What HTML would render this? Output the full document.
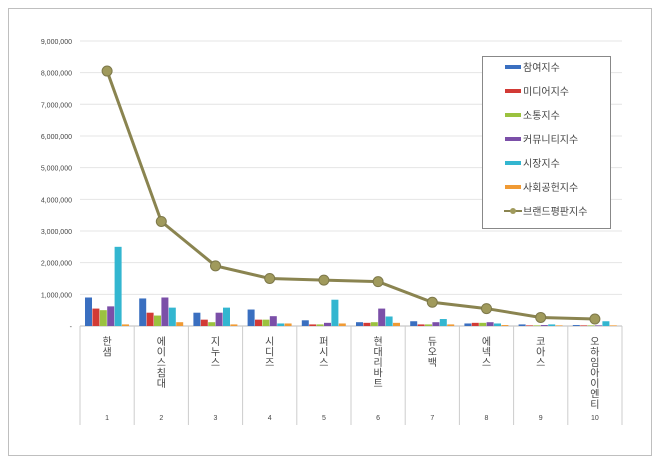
<!DOCTYPE html>
<html><head><meta charset="utf-8"><style>
body{margin:0;background:#fff}
svg{display:block}
text{font-family:"Liberation Sans","Noto Sans CJK KR","NanumGothic",sans-serif}
</style></head><body>
<svg width="660" height="466" xmlns="http://www.w3.org/2000/svg" id="s">
<rect x="8.5" y="8.5" width="643" height="447" fill="#fff" stroke="#bfbfbf"/>
<g id="g"></g>
</svg>
<script>
const g=document.getElementById('g');let h='';
const y0=326,k=31.67,x0=80,cw=54.2;
for(let i=1;i<=9;i++){const y=y0-i*k;h+=`<line x1="${x0}" x2="${x0+cw*10}" y1="${y}" y2="${y}" stroke="#e4e4e4"/>`;
h+=`<text x="72" y="${y+3}" font-size="7" text-anchor="end" fill="#444">${(i*1000000).toLocaleString('en-US')}</text>`;}
h+=`<text x="72" y="${y0+3}" font-size="7" text-anchor="end" fill="#444">-</text>`;
h+=`<line x1="${x0}" x2="${x0+cw*10}" y1="${y0}" y2="${y0}" stroke="#bbb"/>`;
for(let i=0;i<=10;i++){const x=x0+i*cw;h+=`<line x1="${x}" x2="${x}" y1="${y0}" y2="425" stroke="#ccc"/>`;}
const names=['한샘','에이스침대','지누스','시디즈','퍼시스','현대리바트','듀오백','에넥스','코아스','오하임아이엔티'];
const cols=['#3a6fc0','#d23a35','#9bc23f','#7b4fa8','#33b6d0','#f09a34'];
const v=[[.9,.55,.5,.62,2.5,.05],[.87,.42,.33,.9,.58,.12],[.42,.2,.12,.42,.58,.05],[.52,.2,.2,.31,.08,.08],[.18,.05,.05,.1,.83,.08],[.12,.1,.12,.55,.3,.1],[.15,.05,.05,.12,.22,.05],[.08,.1,.1,.12,.08,.03],[.05,.02,.02,.03,.05,.02],[.03,.02,.02,.02,.15,.02]];
const L=[8.05,3.3,1.9,1.5,1.45,1.4,.75,.55,.27,.22];
for(let c=0;c<10;c++){const cx=x0+c*cw+cw/2;
for(let j=0;j<6;j++){const bh=v[c][j]*k;const bx=x0+c*cw+5+j*7.4;h+=`<rect x="${bx}" y="${y0-bh}" width="7" height="${bh}" fill="${cols[j]}"/>`;}
let t='';[...names[c]].forEach((ch,i)=>{t+=`<text x="${cx}" y="${345+i*10.5}" font-size="10" text-anchor="middle" fill="#444">${ch}</text>`;});h+=t;
h+=`<text x="${cx}" y="420" font-size="7" text-anchor="middle" fill="#444">${c+1}</text>`;}
let p=L.map((d,c)=>`${x0+c*cw+cw/2},${y0-d*k}`).join(' ');
h+=`<polyline points="${p}" fill="none" stroke="#8a8450" stroke-width="3"/>`;
L.forEach((d,c)=>{h+=`<circle cx="${x0+c*cw+cw/2}" cy="${y0-d*k}" r="5" fill="#a09a5c" stroke="#7d784a"/>`;});
h+=`<rect x="482.5" y="56.5" width="128" height="172" fill="#fff" stroke="#888"/>`;
const ln=['참여지수','미디어지수','소통지수','커뮤니티지수','시장지수','사회공헌지수','브랜드평판지수'];
ln.forEach((n,i)=>{const y=67+i*24;
if(i<6)h+=`<rect x="505" y="${y-2}" width="16" height="4" fill="${cols[i]}"/>`;
else{h+=`<line x1="504" x2="522" y1="${y}" y2="${y}" stroke="#8a8450" stroke-width="2"/><circle cx="513" cy="${y}" r="3" fill="#a09a5c"/>`;}
h+=`<text x="523" y="${y+4}" font-size="10" fill="#444">${n}</text>`;});
g.innerHTML=h;
</script>
</body></html>
